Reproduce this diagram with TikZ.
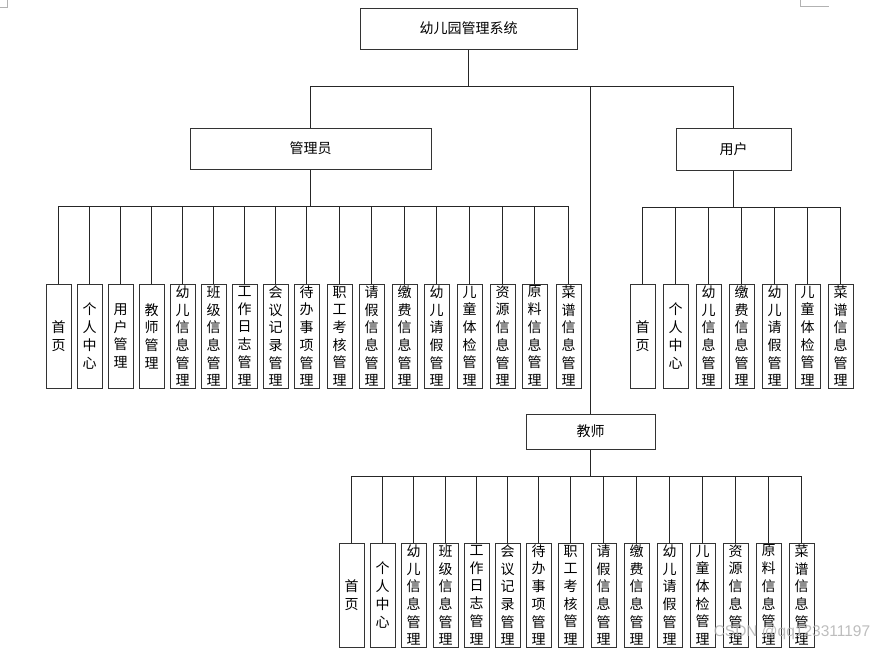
\documentclass[tikz,border=0pt]{standalone}
\usepackage{fontspec}
\newfontfamily\cjk{Noto Sans CJK SC}
\newfontfamily\wmfont{Liberation Sans}
\begin{document}
\begin{tikzpicture}[x=1pt,y=-1pt,
  box/.style={draw=black!80, line width=1pt, fill=white, inner sep=0pt,
    font=\cjk\fontsize{14}{16}\selectfont},
  leaf/.style={box, minimum width=25pt, minimum height=104pt, align=center,
    font=\cjk\fontsize{14}{17.7}\selectfont},
  wire/.style={draw=black!85, line width=1pt},
  cornermark/.style={draw=gray!60, line width=0.8pt}]
\useasboundingbox (0,0) rectangle (889,651);
\fill[white] (0,0) rectangle (889,651);
% corner marks
\draw[cornermark] (0,7) -- (7,7) -- (7,0);
\draw[cornermark] (800,0) -- (800,6) -- (829,6);
% bus coordinates
\coordinate (tbus) at (0,86);
\coordinate (abus) at (0,206);
\coordinate (ubus) at (0,207);
\coordinate (tebus) at (0,476);
% main boxes
\node[box, minimum width=217pt, minimum height=41pt] (root) at (468.5,28.5) {幼儿园管理系统};
\node[box, minimum width=241pt, minimum height=41pt] (admin) at (310.5,148.5) {管理员};
\node[box, minimum width=115pt, minimum height=42pt] (user) at (733.5,149) {用户};
\node[box, minimum width=129pt, minimum height=35pt] (teacher) at (590.5,431.5) {教师};
% top connections
\draw[wire] (root.south) -- (root.south |- tbus);
\draw[wire] (admin.north) -- (admin.north |- tbus) -- (user.north |- tbus) -- (user.north);
\draw[wire] (teacher.north) -- (teacher.north |- tbus);
\draw[wire] (admin.south) -- (admin.south |- abus);
\draw[wire] (user.south) -- (user.south |- ubus);
\draw[wire] (teacher.south) -- (teacher.south |- tebus);
% admin leaves
\foreach \x/\t [count=\i] in {
  46/{首\\页}, 77/{个\\人\\中\\心}, 108/{用\\户\\管\\理}, 139/{教\\师\\管\\理},
  170/{幼\\儿\\信\\息\\管\\理}, 201/{班\\级\\信\\息\\管\\理}, 232/{工\\作\\日\\志\\管\\理},
  263/{会\\议\\记\\录\\管\\理}, 294/{待\\办\\事\\项\\管\\理}, 327/{职\\工\\考\\核\\管\\理},
  359/{请\\假\\信\\息\\管\\理}, 392/{缴\\费\\信\\息\\管\\理}, 424/{幼\\儿\\请\\假\\管\\理},
  457/{儿\\童\\体\\检\\管\\理}, 490/{资\\源\\信\\息\\管\\理}, 522/{原\\料\\信\\息\\管\\理},
  556/{菜\\谱\\信\\息\\管\\理}}{
  \node[leaf] (a\i) at (\x+12.5,336) {\t};
  \draw[wire] (a\i.north) -- (a\i.north |- abus);
}
\draw[wire] (a1.north |- abus) -- (a17.north |- abus);
% user leaves
\foreach \x/\t [count=\i] in {
  630/{首\\页}, 663/{个\\人\\中\\心}, 696/{幼\\儿\\信\\息\\管\\理},
  729/{缴\\费\\信\\息\\管\\理}, 762/{幼\\儿\\请\\假\\管\\理}, 795/{儿\\童\\体\\检\\管\\理},
  828/{菜\\谱\\信\\息\\管\\理}}{
  \node[leaf] (u\i) at (\x+12.5,336) {\t};
  \draw[wire] (u\i.north) -- (u\i.north |- ubus);
}
\draw[wire] (u1.north |- ubus) -- (u7.north |- ubus);
% teacher leaves
\foreach \x/\t [count=\i] in {
  339/{首\\页}, 370/{个\\人\\中\\心}, 401/{幼\\儿\\信\\息\\管\\理},
  433/{班\\级\\信\\息\\管\\理}, 464/{工\\作\\日\\志\\管\\理}, 495/{会\\议\\记\\录\\管\\理},
  526/{待\\办\\事\\项\\管\\理}, 558/{职\\工\\考\\核\\管\\理}, 591/{请\\假\\信\\息\\管\\理},
  624/{缴\\费\\信\\息\\管\\理}, 657/{幼\\儿\\请\\假\\管\\理}, 690/{儿\\童\\体\\检\\管\\理},
  723/{资\\源\\信\\息\\管\\理}, 756/{原\\料\\信\\息\\管\\理}, 789/{菜\\谱\\信\\息\\管\\理}}{
  \node[leaf] (t\i) at (\x+12.5,595) {\t};
  \draw[wire] (t\i.north) -- (t\i.north |- tebus);
}
\draw[wire] (t1.north |- tebus) -- (t15.north |- tebus);
% watermark
\node[font=\wmfont\fontsize{15.5}{15.5}\selectfont, text=gray!60, text opacity=0.85, inner sep=0pt] (wm) at (792,632) {CSDN @qq123311197};
\end{tikzpicture}
\end{document}
